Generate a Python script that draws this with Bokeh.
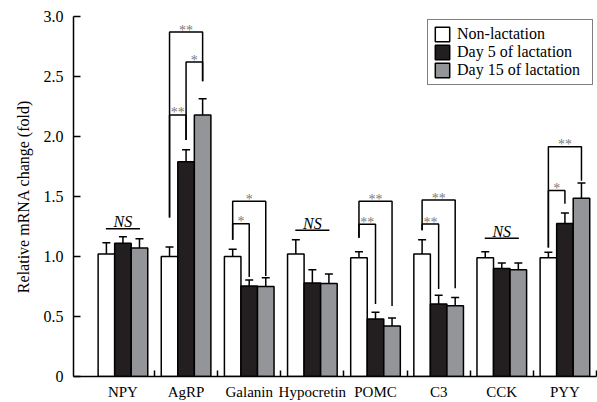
from bokeh.plotting import figure
from bokeh.models import (ColumnDataSource, FixedTicker, Whisker, TeeHead, Legend,
                          LegendItem, Range1d)
from bokeh.core.properties import value
from bokeh.embed import file_html
from bokeh.resources import INLINE

# ---------------- data ----------------
genes = ["NPY", "AgRP", "Galanin", "Hypocretin", "POMC", "C3", "CCK", "PYY"]
series_names = ["Non-lactation", "Day 5 of lactation", "Day 15 of lactation"]

non_lact = [1.02, 1.00, 1.00, 1.02, 0.99, 1.02, 0.99, 0.99]
non_lact_err = [0.095, 0.08, 0.06, 0.12, 0.05, 0.12, 0.05, 0.045]
day5 = [1.11, 1.79, 0.755, 0.78, 0.48, 0.605, 0.90, 1.275]
day5_err = [0.055, 0.10, 0.05, 0.11, 0.056, 0.072, 0.045, 0.088]
day15 = [1.07, 2.18, 0.75, 0.775, 0.42, 0.59, 0.89, 1.485]
day15_err = [0.078, 0.134, 0.072, 0.08, 0.068, 0.069, 0.055, 0.128]

y_ticks = [0, 0.5, 1.0, 1.5, 2.0, 2.5, 3.0]
y_tick_labels = ["0", "0.5", "1.0", "1.5", "2.0", "2.5", "3.0"]

# significance brackets: gene, bar a, bar b, bracket top, leg a bottom, leg b bottom, label
sig_gene = ["AgRP", "AgRP", "AgRP", "Galanin", "Galanin", "POMC", "POMC", "C3", "C3", "PYY", "PYY"]
sig_a = [0, 0, 1, 0, 0, 0, 0, 0, 0, 0, 0]
sig_b = [2, 1, 2, 2, 1, 2, 1, 2, 1, 2, 1]
sig_top = [2.87, 2.18, 2.62, 1.46, 1.273, 1.46, 1.268, 1.47, 1.27, 1.914, 1.549]
sig_a_low = [1.325, 1.325, 1.97, 1.14, 1.14, 1.157, 1.157, 1.218, 1.218, 1.074, 1.074]
sig_b_low = [2.46, 1.97, 2.46, 0.837, 0.83, 0.588, 0.605, 0.735, 0.73, 1.632, 1.44]
sig_label = ["**", "**", "*", "*", "*", "**", "**", "**", "**", "**", "*"]

# non-significant markers
ns_gene = ["NPY", "Hypocretin", "CCK"]
ns_y = [1.232, 1.218, 1.152]

# ---------------- style ----------------
FONT = "Liberation Serif"
colors = ["white", "#231f20", "#939598"]
bar_w = 0.262
offsets = [-bar_w, 0.0, bar_w]

p = figure(width=597, height=402, x_range=Range1d(-0.283, 8.0), y_range=Range1d(0, 3.0),
           output_backend="svg", toolbar_location=None,
           min_border_left=73, min_border_right=1, min_border_top=16, min_border_bottom=24)
p.grid.visible = False
p.outline_line_color = None
p.background_fill_color = "white"
p.border_fill_color = "white"

centers = [i + 0.5 for i in range(len(genes))]
series = [(non_lact, non_lact_err), (day5, day5_err), (day15, day15_err)]
renderers = []
for k, (vals, errs) in enumerate(series):
    xs = [c + offsets[k] for c in centers]
    src = ColumnDataSource(dict(x=xs, top=vals, up=[v + e for v, e in zip(vals, errs)]))
    r = p.vbar(x="x", top="top", width=bar_w, bottom=0, source=src,
               fill_color=colors[k], line_color="black", line_width=1.5)
    renderers.append(r)
    w = Whisker(base="x", lower="top", upper="up", source=src, dimension="height",
                line_color="black", line_width=1.5, lower_head=None,
                upper_head=TeeHead(size=8, line_color="black", line_width=1.5))
    p.add_layout(w)

# brackets
bx, by, tx, ty = [], [], [], []
for g, a, b, top, alow, blow in zip(sig_gene, sig_a, sig_b, sig_top, sig_a_low, sig_b_low):
    gi = genes.index(g)
    xa = centers[gi] + offsets[a]
    xb = centers[gi] + offsets[b]
    bx.append([xa, xa, xb, xb])
    by.append([alow, top, top, blow])
    tx.append((xa + xb) / 2)
    ty.append(top)
p.multi_line(xs=bx, ys=by, line_color="black", line_width=1.5)
p.text(x=tx, y=ty, text=sig_label, text_align="center", text_baseline="alphabetic",
       y_offset=-2, text_font=value(FONT), text_font_size="14px", text_color="#7a7a7a")

# NS markers
nx0 = [genes.index(g) + 0.23 for g in ns_gene]
nx1 = [genes.index(g) + 0.77 for g in ns_gene]
p.segment(x0=nx0, y0=ns_y, x1=nx1, y1=ns_y, line_color="black", line_width=1.5)
p.text(x=[(a + b) / 2 for a, b in zip(nx0, nx1)], y=ns_y, text=["NS"] * len(ns_gene),
       text_align="center", text_baseline="alphabetic", y_offset=-7,
       text_font=value(FONT), text_font_size="16px", text_font_style="italic",
       text_color="black")

# axes
p.xaxis.ticker = FixedTicker(ticks=centers, minor_ticks=[i + 1.0 for i in range(len(genes))])
p.xaxis.major_label_overrides = {c: g for c, g in zip(centers, genes)}
p.xaxis.major_tick_in = 0
p.xaxis.major_tick_out = 0
p.xaxis.minor_tick_in = 6
p.xaxis.minor_tick_out = 0
p.xaxis.minor_tick_line_color = "black"
p.xaxis.minor_tick_line_width = 1.5
p.xaxis.major_label_standoff = 7
p.xaxis.major_label_text_font = FONT
p.xaxis.major_label_text_font_size = "15px"
p.xaxis.major_label_text_color = "black"

p.yaxis.ticker = FixedTicker(ticks=y_ticks, minor_ticks=[])
p.yaxis.major_label_overrides = {t: l for t, l in zip(y_ticks, y_tick_labels)}
p.yaxis.major_tick_in = 7
p.yaxis.major_tick_out = 0
p.yaxis.major_tick_line_width = 1.5
p.yaxis.major_tick_line_color = "black"
p.yaxis.minor_tick_line_color = None
p.yaxis.major_label_standoff = 10
p.yaxis.major_label_text_font = FONT
p.yaxis.major_label_text_font_size = "16px"
p.yaxis.major_label_text_color = "black"
p.yaxis.axis_label = "Relative mRNA change (fold)"
p.yaxis.axis_label_text_font = FONT
p.yaxis.axis_label_text_font_size = "16px"
p.yaxis.axis_label_text_font_style = "normal"
p.yaxis.axis_label_text_color = "black"
p.yaxis.axis_label_standoff = 9

for ax in (p.xaxis, p.yaxis):
    ax.axis_line_color = "black"
    ax.axis_line_width = 1.5

legend = Legend(items=[LegendItem(label=n, renderers=[r]) for n, r in zip(series_names, renderers)],
                location="top_right", margin=3, padding=5, spacing=0,
                glyph_width=18, glyph_height=18, label_height=18, label_width=130,
                label_standoff=6,
                label_text_font=FONT, label_text_font_size="16px", label_text_color="black",
                border_line_color="black", border_line_width=1.5, background_fill_alpha=1.0)
p.add_layout(legend)

open("out.html", "w").write(file_html(p, INLINE))
